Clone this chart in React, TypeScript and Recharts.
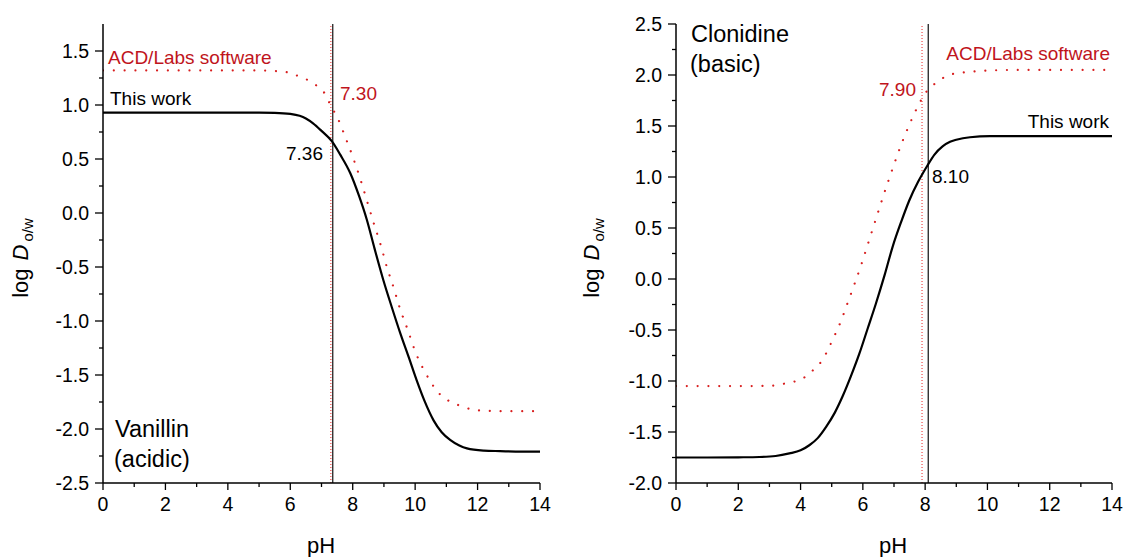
import { LineChart, Line, XAxis, YAxis, ReferenceLine } from 'recharts'

// pH values and log D readings, taken off the two panels
const vanThisWorkPh = [0, 1, 2, 3, 4, 5, 5.5, 6, 6.3, 6.5, 6.73, 7, 7.33, 7.6, 7.92, 8.2, 8.45, 8.7, 8.98, 9.25, 9.52, 9.8, 10.05, 10.3, 10.59, 10.85, 11.12, 11.4, 11.66, 12.2, 12.72, 13.4, 14]
const vanThisWorkLogD = [0.93, 0.93, 0.93, 0.93, 0.93, 0.93, 0.928, 0.918, 0.9, 0.875, 0.83, 0.76, 0.665, 0.54, 0.37, 0.16, -0.06, -0.33, -0.62, -0.87, -1.11, -1.34, -1.55, -1.74, -1.92, -2.03, -2.1, -2.15, -2.18, -2.2, -2.205, -2.21, -2.21]

const vanAcdPh = [0, 2, 4, 5, 5.5, 5.78, 6.14, 6.5, 6.84, 7.14, 7.3, 7.5, 7.78, 8.04, 8.26, 8.47, 8.68, 8.89, 9.09, 9.32, 9.52, 9.76, 10, 10.33, 10.8, 11.15, 11.5, 11.83, 12.17, 13, 14]
const vanAcdLogD = [1.32, 1.32, 1.32, 1.32, 1.315, 1.31, 1.28, 1.24, 1.18, 1.09, 0.99, 0.89, 0.69, 0.49, 0.3, 0.1, -0.1, -0.29, -0.495, -0.7, -0.89, -1.08, -1.28, -1.48, -1.68, -1.75, -1.79, -1.82, -1.83, -1.835, -1.835]

const cloThisWorkPh = [0, 1, 2, 2.68, 3.2, 3.64, 4, 4.28, 4.55, 4.82, 5.1, 5.35, 5.62, 5.89, 6.15, 6.42, 6.7, 6.96, 7.23, 7.49, 7.77, 8.05, 8.3, 8.56, 8.8, 9, 9.44, 10.08, 11, 14]
const cloThisWorkLogD = [-1.75, -1.75, -1.748, -1.745, -1.735, -1.71, -1.68, -1.63, -1.56, -1.45, -1.31, -1.15, -0.95, -0.73, -0.49, -0.24, 0.04, 0.32, 0.56, 0.77, 0.95, 1.1, 1.22, 1.3, 1.345, 1.365, 1.39, 1.4, 1.4, 1.4]

const cloAcdPh = [0, 2, 3.05, 3.4, 3.75, 4.09, 4.43, 4.71, 4.9, 5.06, 5.22, 5.48, 5.73, 5.96, 6.19, 6.4, 6.62, 6.85, 7.09, 7.35, 7.49, 7.65, 7.81, 8.05, 8.38, 8.69, 9.07, 9.41, 9.76, 11, 14]
const cloAcdLogD = [-1.05, -1.05, -1.046, -1.03, -1.01, -0.97, -0.885, -0.79, -0.68, -0.575, -0.47, -0.26, -0.05, 0.15, 0.37, 0.57, 0.78, 0.99, 1.2, 1.41, 1.51, 1.62, 1.72, 1.84, 1.93, 1.99, 2.02, 2.03, 2.04, 2.05, 2.05]

const phTicks = [0, 1, 2, 3, 4, 5, 6, 7, 8, 9, 10, 11, 12, 13, 14]
const vanYTicks = [-2.5, -2.25, -2, -1.75, -1.5, -1.25, -1, -0.75, -0.5, -0.25, 0, 0.25, 0.5, 0.75, 1, 1.25, 1.5]
const cloYTicks = [-2, -1.75, -1.5, -1.25, -1, -0.75, -0.5, -0.25, 0, 0.25, 0.5, 0.75, 1, 1.25, 1.5, 1.75, 2, 2.25, 2.5]

const vanPka = { thisWork: 7.36, acd: 7.3 }
const cloPka = { thisWork: 8.1, acd: 7.9 }

const zip = (xs: number[], ys: number[]) => xs.map((ph, i) => ({ ph, logD: ys[i] }))

const FONT = 'Arial, "Liberation Sans", sans-serif'
const RED_TEXT = '#c0141c'
const RED_DOT = '#d81e1e'

const XTick = (props: any) => {
  const { x, y, payload } = props
  const major = payload.value % 2 === 0
  return (
    <g>
      <line x1={x} x2={x} y1={y} y2={y + (major ? 7 : 4)} stroke="#000" strokeWidth={1.3} />
      {major && (
        <text x={x} y={y + 28} textAnchor="middle" fontSize={19.5} fontFamily={FONT} fill="#000">
          {payload.value}
        </text>
      )}
    </g>
  )
}

const YTick = (props: any) => {
  const { x, y, payload } = props
  const major = Math.abs((payload.value * 2) % 1) < 1e-6
  return (
    <g>
      <line x1={x} x2={x - (major ? 8 : 4)} y1={y} y2={y} stroke="#000" strokeWidth={1.3} />
      {major && (
        <text x={x - 14} y={y} dy="0.36em" textAnchor="end" fontSize={19.5} fontFamily={FONT} fill="#000">
          {payload.value.toFixed(1)}
        </text>
      )}
    </g>
  )
}

function Panel({ thisWork, acd, yDomain, yTicks, pka, width, yWidth, right }: any) {
  return (
    <LineChart width={width} height={557} margin={{ top: 24, right, bottom: 0, left: 0 }}>
      <XAxis
        type="number"
        dataKey="ph"
        domain={[0, 14]}
        ticks={phTicks}
        interval={0}
        tickSize={0}
        tickMargin={0}
        tickLine={false}
        tick={<XTick />}
        height={74}
        axisLine={{ stroke: '#000', strokeWidth: 1.5 }}
        allowDataOverflow
      />
      <YAxis
        type="number"
        domain={yDomain}
        ticks={yTicks}
        interval={0}
        tickSize={0}
        tickMargin={0}
        tickLine={false}
        tick={<YTick />}
        width={yWidth}
        axisLine={{ stroke: '#000', strokeWidth: 1.5 }}
        allowDataOverflow
      />
      <ReferenceLine x={pka.acd} stroke="#ee3a3a" strokeWidth={1.1} strokeDasharray="1 2" />
      <ReferenceLine x={pka.thisWork} stroke="#222" strokeWidth={1.3} />
      <Line
        data={acd}
        dataKey="logD"
        type="monotone"
        stroke={RED_DOT}
        strokeWidth={2.2}
        strokeLinecap="round"
        strokeDasharray="0.01 10.8"
        dot={false}
        isAnimationActive={false}
      />
      <Line
        data={thisWork}
        dataKey="logD"
        type="monotone"
        stroke="#000"
        strokeWidth={2.2}
        dot={false}
        isAnimationActive={false}
      />
    </LineChart>
  )
}

function AxisTitles({ cx, yx }: { cx: number; yx: number }) {
  return (
    <g fontFamily={FONT} fill="#000">
      <text x={cx} y={553} textAnchor="middle" fontSize={22}>pH</text>
      <text transform={`translate(${yx}, 258) rotate(-90)`} textAnchor="middle" fontSize={22}>
        log
        <tspan fontStyle="italic" dx={8}>D</tspan>
        <tspan fontSize={15} dx={3} dy={5}>o/w</tspan>
      </text>
    </g>
  )
}

export default function App() {
  return (
    <div style={{ position: 'absolute', left: 0, top: 0, width: 1123, height: 557, background: '#fff' }}>
      <div style={{ position: 'absolute', left: 0, top: 0 }}>
        <Panel
          thisWork={zip(vanThisWorkPh, vanThisWorkLogD)}
          acd={zip(vanAcdPh, vanAcdLogD)}
          yDomain={[-2.5, 1.75]}
          yTicks={vanYTicks}
          pka={vanPka}
          width={560}
          yWidth={103}
          right={20}
        />
      </div>
      <div style={{ position: 'absolute', left: 560, top: 0 }}>
        <Panel
          thisWork={zip(cloThisWorkPh, cloThisWorkLogD)}
          acd={zip(cloAcdPh, cloAcdLogD)}
          yDomain={[-2, 2.5]}
          yTicks={cloYTicks}
          pka={cloPka}
          width={563}
          yWidth={116}
          right={11}
        />
      </div>
      <svg width={1123} height={557} style={{ position: 'absolute', left: 0, top: 0, pointerEvents: 'none' }}>
        <g fontFamily={FONT} fontSize={19}>
          <text x={108} y={64} fill={RED_TEXT}>ACD/Labs software</text>
          <text x={110} y={105} fill="#000">This work</text>
          <text x={340} y={100} fill={RED_TEXT}>7.30</text>
          <text x={323} y={160} fill="#000" textAnchor="end">7.36</text>
          <text x={1110} y={60} fill={RED_TEXT} textAnchor="end">ACD/Labs software</text>
          <text x={916} y={96} fill={RED_TEXT} textAnchor="end">7.90</text>
          <text x={1109} y={128} fill="#000" textAnchor="end">This work</text>
          <text x={932} y={183} fill="#000">8.10</text>
        </g>
        <g fontFamily={FONT} fontSize={23.5} fill="#000">
          <text x={115} y={437}>Vanillin</text>
          <text x={114} y={467}>(acidic)</text>
          <text x={691} y={42}>Clonidine</text>
          <text x={690} y={72}>(basic)</text>
        </g>
        <AxisTitles cx={321} yx={28} />
        <AxisTitles cx={893} yx={599} />
      </svg>
    </div>
  )
}
